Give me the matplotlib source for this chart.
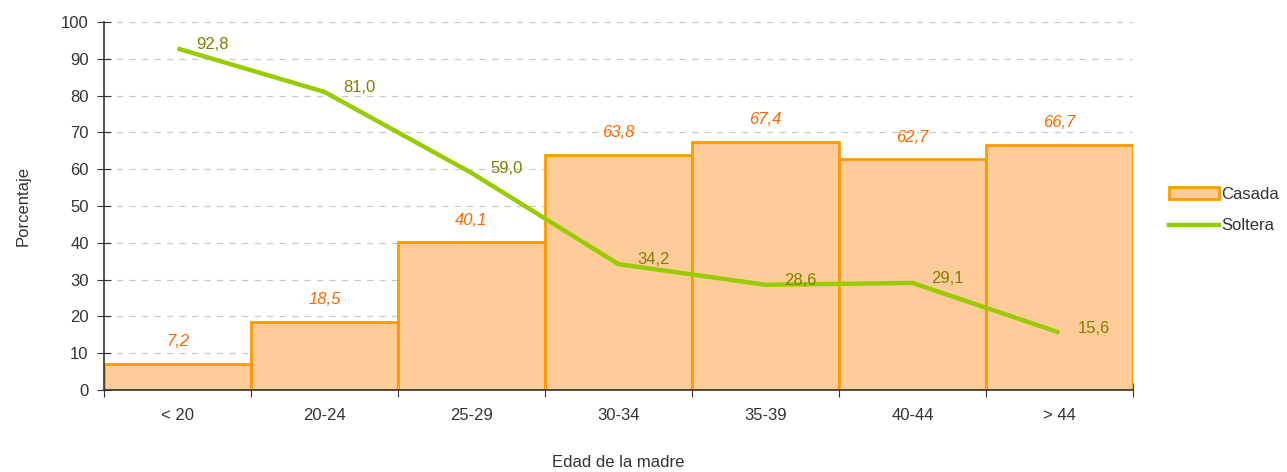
import matplotlib.pyplot as plt
from matplotlib.patches import Patch
from matplotlib.lines import Line2D

# Data
edades = ['< 20', '20-24', '25-29', '30-34', '35-39', '40-44', '> 44']
casada = [7.2, 18.5, 40.1, 63.8, 67.4, 62.7, 66.7]
soltera = [92.8, 81.0, 59.0, 34.2, 28.6, 29.1, 15.6]

plt.rcParams['font.family'] = ['Liberation Sans', 'DejaVu Sans']
plt.rcParams['font.size'] = 12

fig = plt.figure(figsize=(12.87, 4.72), dpi=100)
ax = fig.add_axes([0.0808, 0.1737, 0.7995, 0.7797])

x = list(range(len(edades)))
ax.bar(x, casada, width=1.0, color='#FFCC99', edgecolor='#FF9900', linewidth=2, zorder=2)
ax.plot(x, soltera, color='#99CC00', linewidth=3.2, zorder=3, solid_capstyle='butt')

for xi, v in zip(x, casada):
    ax.annotate(f'{v:.1f}'.replace('.', ','), (xi, v), xytext=(0, 16), textcoords='offset points',
                ha='center', va='center', color='#FF6600', style='italic', fontsize=12, zorder=4)
for xi, v in zip(x, soltera):
    ax.annotate(f'{v:.1f}'.replace('.', ','), (xi, v), xytext=(25, 3), textcoords='offset points',
                ha='center', va='center', color='#808000', fontsize=12, zorder=4)

ax.set_xlim(-0.5, len(edades) - 0.5)
ax.set_ylim(0, 100)
ax.set_yticks(range(0, 101, 10))
ax.set_xticks([i - 0.5 for i in range(len(edades) + 1)])
ax.set_xticklabels([])
ax.set_xticks(x, minor=True)
ax.set_xticklabels(edades, minor=True)
ax.tick_params(axis='x', which='minor', length=0, pad=13, colors='#333333')
ax.tick_params(axis='x', which='major', direction='inout', length=10, color='#333333')
ax.tick_params(axis='y', direction='inout', length=10, color='#333333', labelcolor='#333333', pad=6)

ax.grid(axis='y', color='#C8C8C8', linestyle=(0, (5, 5)), linewidth=0.9, zorder=0)
ax.set_axisbelow(True)
for s in ['top', 'right']:
    ax.spines[s].set_visible(False)
for s in ['left', 'bottom']:
    ax.spines[s].set_color('#333333')
    ax.spines[s].set_linewidth(1.2)

ax.set_ylabel('Porcentaje', color='#333333', labelpad=22)
ax.set_xlabel('Edad de la madre', color='#333333', labelpad=23)

handles = [Patch(facecolor='#FFCC99', edgecolor='#FF9900', linewidth=2),
           Line2D([], [], color='#99CC00', linewidth=3.2)]
fig.legend(handles, ['Casada', 'Soltera'], loc='center left', bbox_to_anchor=(0.897, 0.555),
           frameon=False, handlelength=3.0, handletextpad=0.1, labelspacing=1.0, fontsize=12,
           labelcolor='#333333')

fig.savefig('out.png', dpi=100)
